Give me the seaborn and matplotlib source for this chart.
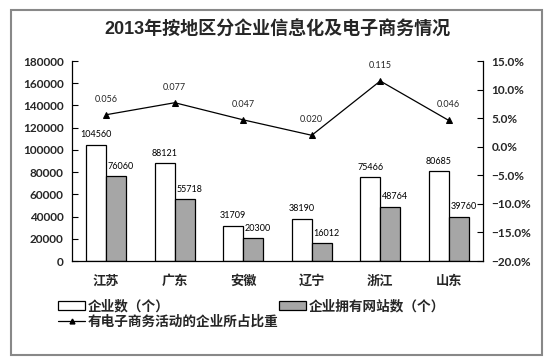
import numpy as np
import pandas as pd
import seaborn as sns
import matplotlib.pyplot as plt
from matplotlib.patches import Rectangle, Patch
from matplotlib.lines import Line2D
from matplotlib.ticker import PercentFormatter, MultipleLocator

regions = ['江苏', '广东', '安徽', '辽宁', '浙江', '山东']
enterprises = [104560, 88121, 31709, 38190, 75466, 80685]
with_website = [76060, 55718, 20300, 16012, 48764, 39760]
ecommerce_ratio = [0.056, 0.077, 0.047, 0.020, 0.115, 0.046]

series_names = ['企业数（个）', '企业拥有网站数（个）']
line_name = '有电子商务活动的企业所占比重'
title = '2013年按地区分企业信息化及电子商务情况'

sns.set_style('white')
plt.rcParams['font.family'] = ['Lato', 'Noto Sans CJK SC', 'DejaVu Sans']

df = pd.DataFrame({
    'region': regions * 2,
    'value': enterprises + with_website,
    'series': [series_names[0]] * 6 + [series_names[1]] * 6,
})

fig = plt.figure(figsize=(5.54, 3.61), dpi=100)
ax = fig.add_axes([72 / 554, 100 / 361, 411 / 554, 200 / 361])

sns.barplot(data=df, x='region', y='value', hue='series', order=regions,
            hue_order=series_names, palette=['white', '#A6A6A6'],
            edgecolor='black', linewidth=0.9, width=0.584, saturation=1,
            legend=False, ax=ax)

# data labels on the bars, the gray ones sit a bit to the right
for k, cont in enumerate(ax.containers):
    vals = enterprises if k == 0 else with_website
    texts = ax.bar_label(cont, labels=[str(v) for v in vals],
                         padding=4, fontsize=6.5, color='black')
    if k == 1:
        for t in texts:
            t.xyann = (3.5, 4)

ax.set_ylim(0, 180000)
ax.yaxis.set_major_locator(MultipleLocator(20000))
ax.set_xlim(-0.5, 5.5)
ax.set_xlabel('')
ax.set_ylabel('')
ax.spines['top'].set_visible(False)
ax.spines['right'].set_visible(False)
for s in ['left', 'bottom']:
    ax.spines[s].set_color('black')
    ax.spines[s].set_linewidth(0.9)

ax.set_xticks(np.arange(-0.5, 6, 1), minor=True)
ax.tick_params(axis='x', which='major', length=0, pad=9)
ax.tick_params(axis='x', which='minor', direction='in', length=5, color='black')
ax.tick_params(axis='y', direction='in', length=4, color='black', pad=6)
for lab in ax.get_xticklabels():
    lab.set_fontweight('bold')
    lab.set_fontsize(9.5)
    lab.set_family(['Noto Sans CJK SC'])
for lab in ax.get_yticklabels():
    lab.set_fontweight('bold')
    lab.set_fontsize(8.5)

# secondary axis for the ratio line
ax2 = ax.twinx()
sns.lineplot(x=np.arange(len(regions)), y=ecommerce_ratio, ax=ax2, color='black',
             linewidth=0.9, marker='^', markersize=5, markeredgecolor='black')
ax2.set_ylim(-0.2, 0.15)
ax2.set_xlim(-0.5, 5.5)
ax2.yaxis.set_major_locator(MultipleLocator(0.05))
ax2.yaxis.set_major_formatter(PercentFormatter(1.0, decimals=1))
ax2.spines['top'].set_visible(False)
ax2.spines['left'].set_visible(False)
ax2.spines['bottom'].set_visible(False)
ax2.spines['right'].set_color('black')
ax2.spines['right'].set_linewidth(0.9)
ax2.tick_params(axis='y', direction='in', length=4, color='black', pad=6)
for lab in ax2.get_yticklabels():
    lab.set_fontweight('bold')
    lab.set_fontsize(8.5)

for i, v in enumerate(ecommerce_ratio):
    ax2.annotate(f'{v:.3f}', (i, v), xytext=(0, 8), textcoords='offset points',
                 ha='center', va='bottom', fontsize=6.5)

fig.text(0.5, 0.917, title, ha='center', va='center', fontsize=13, fontweight='bold',
         family=['Liberation Sans', 'Noto Sans CJK SC'])

handles = [
    Patch(facecolor='white', edgecolor='black', linewidth=0.9),
    Line2D([0], [0], color='black', lw=0.9, marker='^', markersize=3.5),
    Patch(facecolor='#A6A6A6', edgecolor='black', linewidth=0.9),
]
labels = [series_names[0], line_name, series_names[1]]
fig.legend(handles, labels, loc='upper left', bbox_to_anchor=(58 / 554, 1 - 299 / 361),
           ncol=2, frameon=False, borderpad=0, borderaxespad=0, handlelength=2.0,
           handleheight=0.6, handletextpad=0.2, labelspacing=0.12, columnspacing=0.0,
           prop={'family': ['Noto Sans CJK SC'], 'weight': 'bold', 'size': 9.8})

fig.patches.append(Rectangle((11 / 554, 1 - 355 / 361), 531 / 554, 345 / 361,
                             transform=fig.transFigure, fill=False,
                             edgecolor='#888888', linewidth=1.5))

fig.savefig('out.png', dpi=100)
